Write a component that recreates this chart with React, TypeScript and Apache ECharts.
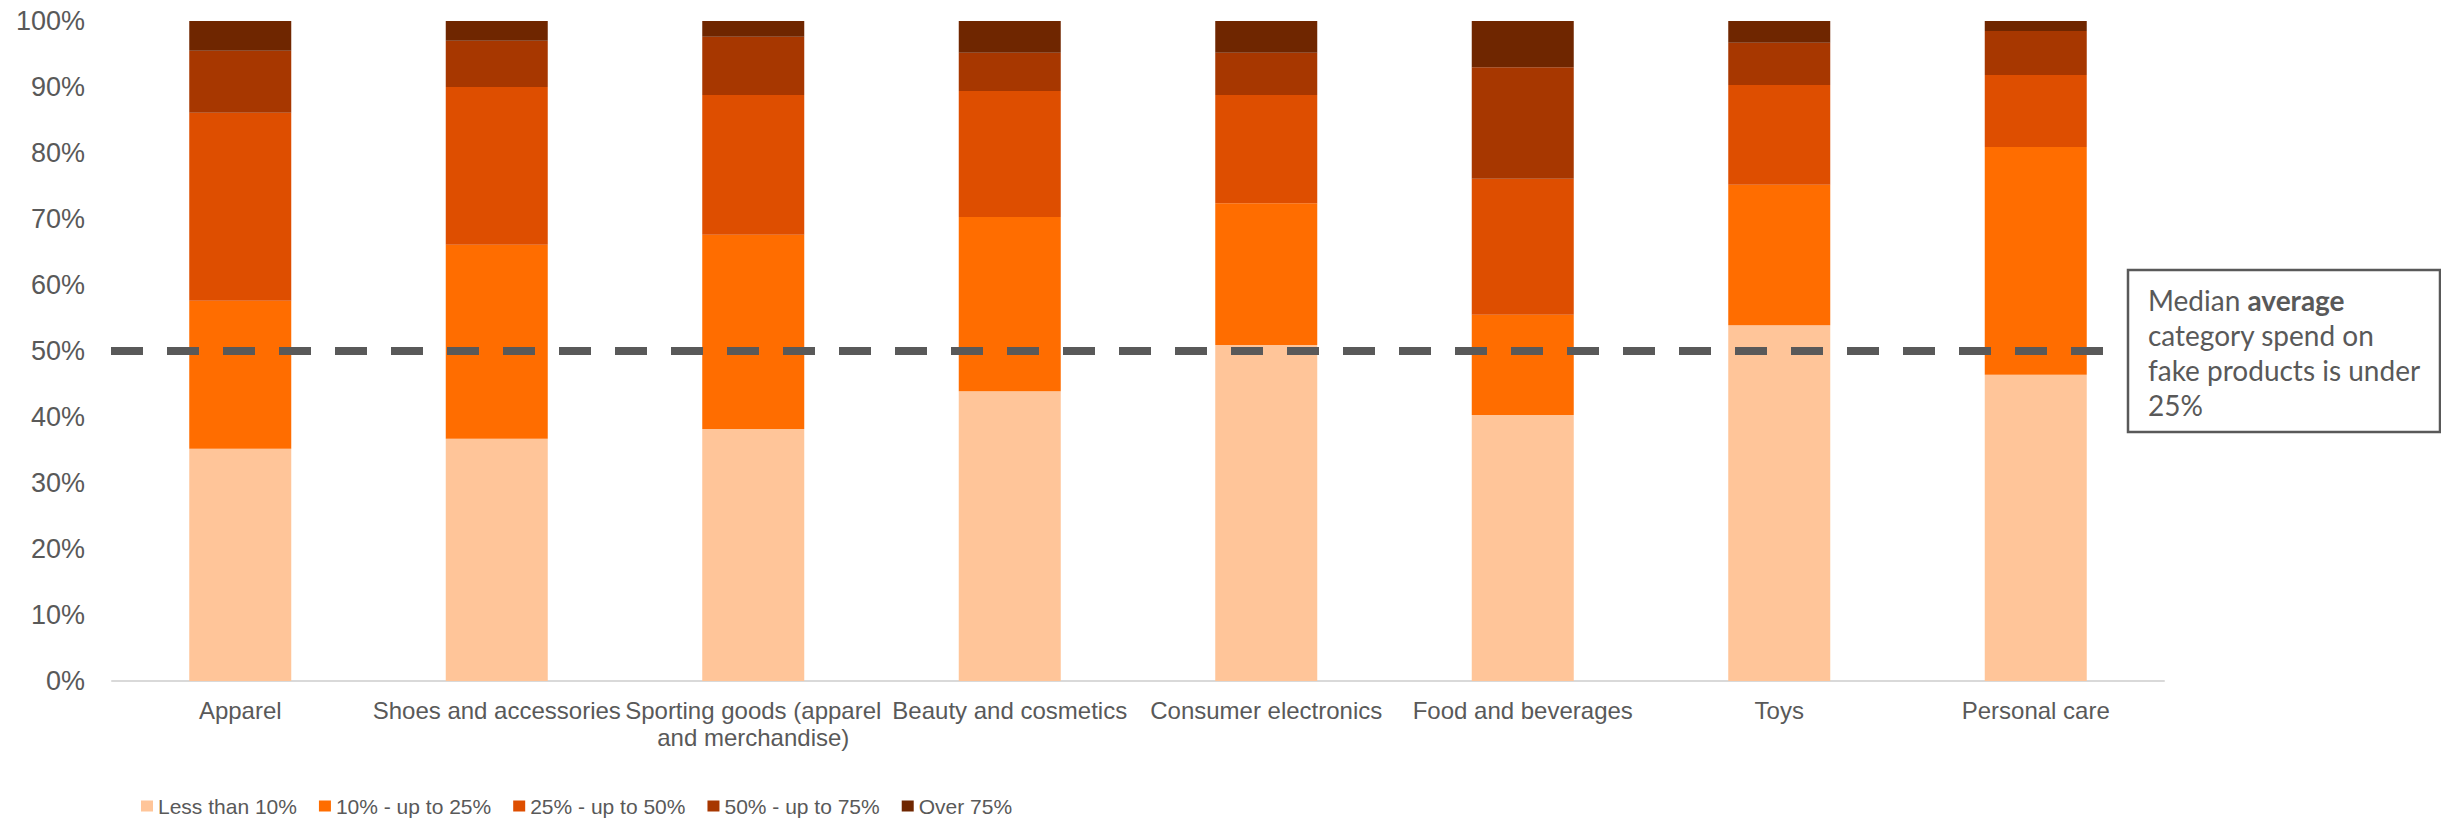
import React, { useEffect, useRef } from "react";
import * as echarts from "echarts";

const categories = [
  "Apparel",
  "Shoes and accessories",
  "Sporting goods (apparel and merchandise)",
  "Beauty and cosmetics",
  "Consumer electronics",
  "Food and beverages",
  "Toys",
  "Personal care",
];

const seriesNames = [
  "Less than 10%",
  "10% - up to 25%",
  "25% - up to 50%",
  "50% - up to 75%",
  "Over 75%",
];

const lessThan10 = [35.2, 36.7, 38.2, 43.9, 50.9, 40.3, 53.9, 46.4];
const from10to25 = [22.4, 29.4, 29.4, 26.4, 21.5, 15.2, 21.3, 34.5];
const from25to50 = [28.5, 23.9, 21.2, 19.1, 16.4, 20.6, 15.1, 10.9];
const from50to75 = [9.4, 7.0, 8.8, 5.8, 6.4, 16.9, 6.4, 6.7];
const over75 = [4.5, 3.0, 2.4, 4.8, 4.8, 7.0, 3.3, 1.5];

const medianLine = 50;
const yTicks = { min: 0, max: 100, interval: 10 };

const colors = ["#FFC599", "#FF6D00", "#DE4E00", "#A73700", "#6F2600"];

const annotationLines = [
  "Median {b|average}",
  "category spend on",
  "fake products is under",
  "25%",
];

export default function App() {
  const ref = useRef<HTMLDivElement>(null);

  useEffect(() => {
    document.body.style.margin = "0";
    if (!ref.current) return;
    const chart = echarts.init(ref.current, null, { renderer: "svg" });
    const data = [lessThan10, from10to25, from25to50, from50to75, over75];
    const font = "'Liberation Sans', Arial, sans-serif";
    const option: any = {
      animation: false,
      backgroundColor: "#ffffff",
      grid: { left: 112, right: 277, top: 21, bottom: 141, containLabel: false },
      legend: {
        left: 141,
        top: 795,
        icon: "rect",
        itemWidth: 12,
        itemHeight: 11,
        itemGap: 22,
        padding: 0,
        textStyle: { fontFamily: font, fontSize: 21, lineHeight: 22, color: "#595959" },
        data: seriesNames,
      },
      xAxis: {
        type: "category",
        data: categories,
        axisLine: { show: true, lineStyle: { color: "#D9D9D9", width: 2 } },
        axisTick: { show: false },
        axisLabel: {
          interval: 0,
          margin: 16,
          fontFamily: font,
          fontSize: 24,
          lineHeight: 27,
          color: "#595959",
          formatter: (v: string) => v.replace(" and merchandise)", "\nand merchandise)"),
        },
      },
      yAxis: {
        type: "value",
        min: yTicks.min,
        max: yTicks.max,
        interval: yTicks.interval,
        axisLine: { show: false },
        axisTick: { show: false },
        splitLine: { show: false },
        axisLabel: {
          margin: 27,
          fontFamily: font,
          fontSize: 27,
          color: "#595959",
          formatter: "{value}%",
        },
      },
      series: seriesNames.map((name, i) => ({
        name,
        type: "bar",
        stack: "total",
        barWidth: 102,
        data: data[i],
        itemStyle: { color: colors[i] },
      })),
    };
    chart.setOption(option);
    const yPix = chart.convertToPixel({ yAxisIndex: 0 }, medianLine) as number;
    chart.setOption({
      graphic: [
        {
          type: "line",
          shape: { x1: 111, y1: yPix, x2: 2103, y2: yPix },
          style: { stroke: "#595959", lineWidth: 8, lineDash: [32, 24], lineCap: "butt" },
          z: 10,
        },
        {
          type: "rect",
          shape: { x: 2128, y: 270, width: 312, height: 162 },
          style: { fill: "#ffffff", stroke: "#595959", lineWidth: 2.5 },
          z: 10,
        },
        {
          type: "text",
          x: 2148,
          y: 282,
          z: 11,
          style: {
            text: annotationLines.join("\n"),
            fontFamily: "Lato, 'Open Sans', sans-serif",
            fontSize: 28,
            lineHeight: 35,
            fill: "#595959",
            verticalAlign: "top",
            rich: {
              b: {
                fontFamily: "Lato, 'Open Sans', sans-serif",
                fontSize: 28,
                fontWeight: "bold",
                lineHeight: 35,
                fill: "#595959",
                color: "#595959",
              },
            },
          },
        },
      ],
    });
    return () => chart.dispose();
  }, []);

  return <div ref={ref} style={{ width: 2441, height: 822 }} />;
}
